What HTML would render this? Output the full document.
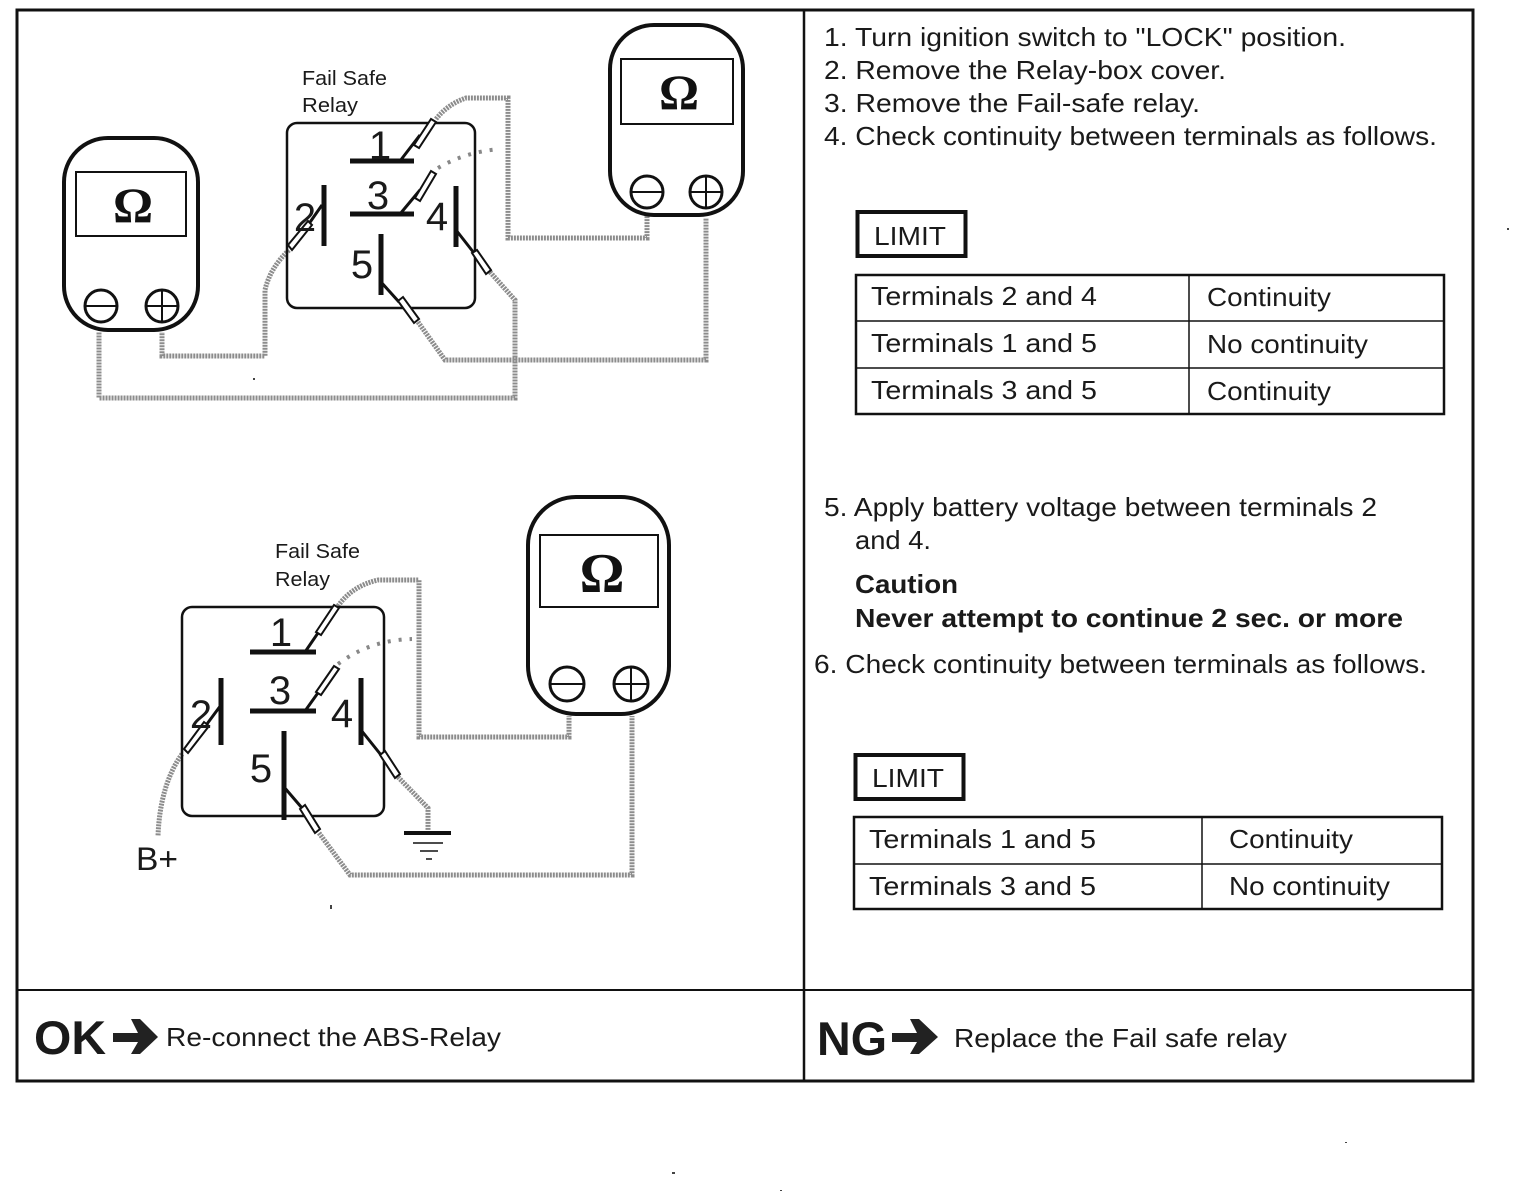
<!DOCTYPE html>
<html><head><meta charset="utf-8"><style>
html,body{margin:0;padding:0;background:#fff}
svg{display:block}
text{font-family:"Liberation Sans",sans-serif;fill:#1a1a1a}
.w{fill:none;stroke:#8c8c8c;stroke-width:5;stroke-dasharray:2 1;stroke-linejoin:miter}
.d{fill:none;stroke:#888;stroke-width:4;stroke-dasharray:3 8}
.k{fill:none;stroke:#111}
.p{fill:#fff;stroke:#111;stroke-width:2}
.t{font-size:26px}
.n{font-size:40px}
.f{font-size:20px}
.om{font-family:"Liberation Serif",serif;font-weight:bold;font-size:50px;fill:#111;text-anchor:middle}
.b{font-weight:bold}
</style></head><body>
<svg width="1536" height="1198" viewBox="0 0 1536 1198" xmlns="http://www.w3.org/2000/svg">
<rect width="1536" height="1198" fill="#fff"/>
<!-- frame -->
<rect x="17" y="10" width="1456" height="1071" class="k" stroke-width="3"/>
<path d="M804 10V1081" class="k" stroke-width="2.5"/>
<path d="M17 990H1473" class="k" stroke-width="2"/>

<!-- top wires -->
<path class="w" d="M436 119Q448 104 466 98H508V238H647V215"/>
<path class="d" d="M438 168Q465 152 500 149"/>
<path class="w" d="M289 250Q270 268 265 290V356H162V332"/>
<path class="w" d="M490 272L515 300V398H99V332"/>
<path class="w" d="M418 322L445 360H706V218"/>

<!-- top relay -->
<rect x="287" y="123" width="188" height="185" rx="10" class="k" stroke-width="2.5"/>
<path class="k" stroke-width="5" d="M350 161H414M350 214H414M324 185V246M456 186V247M381 234V295"/>
<path class="k" stroke-width="3" d="M400 161L420 135M400 214L420 190M322 205L306 228M456 230L474 253M381 282L399 302"/>
<g class="p">
<path d="M414 145L431 119L436 122L419 148Z"/>
<path d="M415 198L431 171L436 174L420 201Z"/>
<path d="M288 245L308 221L312 225L292 250Z"/>
<path d="M472 253L477 250L491 270L486 274Z"/>
<path d="M398 301L403 297L419 319L414 323Z"/>
</g>
<text class="f" x="302" y="85" textLength="85" lengthAdjust="spacingAndGlyphs">Fail Safe</text>
<text class="f" x="302" y="112" textLength="56" lengthAdjust="spacingAndGlyphs">Relay</text>
<text class="n" x="380" y="159" text-anchor="middle">1</text>
<text class="n" x="378" y="209" text-anchor="middle">3</text>
<text class="n" x="305" y="231" text-anchor="middle">2</text>
<text class="n" x="437" y="230" text-anchor="middle">4</text>
<text class="n" x="362" y="278" text-anchor="middle">5</text>

<!-- left meter -->
<rect x="64" y="138" width="134" height="192" rx="44" class="k" stroke-width="4"/>
<rect x="76" y="172" width="110" height="64" class="k" stroke-width="2"/>
<text class="om" x="133" y="222">Ω</text>
<ellipse cx="101" cy="306" rx="16" ry="16" class="k" stroke-width="3"/>
<ellipse cx="162" cy="306" rx="16" ry="16" class="k" stroke-width="3"/>
<path class="k" stroke-width="2" d="M85 306H117M146 306H178M162 290V322"/>

<!-- right meter -->
<rect x="610" y="25" width="133" height="190" rx="44" class="k" stroke-width="4"/>
<rect x="621" y="59" width="112" height="65" class="k" stroke-width="2"/>
<text class="om" x="679" y="109">Ω</text>
<ellipse cx="647" cy="192" rx="16" ry="16" class="k" stroke-width="3"/>
<ellipse cx="706" cy="192" rx="16" ry="16" class="k" stroke-width="3"/>
<path class="k" stroke-width="2" d="M631 192H663M690 192H722M706 176V208"/>

<!-- bottom wires -->
<path class="w" d="M338 606Q352 586 378 580H419V737H569V716"/>
<path class="d" d="M338 664Q370 640 412 639"/>
<path class="w" d="M182 754Q160 785 158 836"/>
<path class="w" d="M398 777L428 808V830"/>
<path class="w" d="M319 833L350 875H632V716"/>

<!-- bottom relay -->
<rect x="182" y="607" width="202" height="209" rx="10" class="k" stroke-width="2.5"/>
<path class="k" stroke-width="5" d="M250 652H316M250 711H316M221 678V745M361 678V745M284 731V820"/>
<path class="k" stroke-width="3" d="M305 652L320 630M305 711L320 690M221 705L204 728M361 730L381 755M284 787L302 808"/>
<g class="p">
<path d="M316 632L334 605L339 608L321 635Z"/>
<path d="M316 692L334 666L339 669L321 695Z"/>
<path d="M184 749L204 722L209 726L188 753Z"/>
<path d="M380 755L385 751L400 774L395 778Z"/>
<path d="M300 809L305 805L320 829L315 833Z"/>
</g>
<text class="f" x="275" y="558" textLength="85" lengthAdjust="spacingAndGlyphs">Fail Safe</text>
<text class="f" x="275" y="586" textLength="55" lengthAdjust="spacingAndGlyphs">Relay</text>
<text class="n" x="281" y="646" text-anchor="middle">1</text>
<text class="n" x="280" y="704" text-anchor="middle">3</text>
<text class="n" x="201" y="728" text-anchor="middle">2</text>
<text class="n" x="342" y="727" text-anchor="middle">4</text>
<text class="n" x="261" y="782" text-anchor="middle">5</text>
<text x="136" y="870" font-size="32" textLength="42" lengthAdjust="spacingAndGlyphs">B+</text>
<path class="k" d="M404 833H451" stroke-width="4"/>
<path class="k" d="M413 843H443M420 851H438M426 859H432" stroke-width="1.5"/>

<!-- bottom meter -->
<rect x="528" y="497" width="141" height="217" rx="48" class="k" stroke-width="4"/>
<rect x="540" y="535" width="118" height="72" class="k" stroke-width="2"/>
<text class="om" x="602" y="592" style="font-size:56px">Ω</text>
<circle cx="567" cy="684" r="17" class="k" stroke-width="3"/>
<circle cx="631" cy="684" r="17" class="k" stroke-width="3"/>
<path class="k" stroke-width="2" d="M550 684H584M614 684H648M631 667V701"/>

<!-- right text -->
<text class="t" x="824" y="46" textLength="522" lengthAdjust="spacingAndGlyphs">1. Turn ignition switch to "LOCK" position.</text>
<text class="t" x="824" y="79" textLength="402" lengthAdjust="spacingAndGlyphs">2. Remove the Relay-box cover.</text>
<text class="t" x="824" y="112" textLength="376" lengthAdjust="spacingAndGlyphs">3. Remove the Fail-safe relay.</text>
<text class="t" x="824" y="145" textLength="613" lengthAdjust="spacingAndGlyphs">4. Check continuity between terminals as follows.</text>

<rect x="857.5" y="212" width="108" height="44" class="k" stroke-width="4"/>
<text class="t" x="874" y="245" textLength="72" lengthAdjust="spacingAndGlyphs">LIMIT</text>
<rect x="856" y="275" width="588" height="139" class="k" stroke-width="2.5"/>
<path class="k" stroke-width="1.5" d="M856 321H1444M856 368H1444M1189 275V414"/>
<text class="t" x="871" y="305" textLength="226" lengthAdjust="spacingAndGlyphs">Terminals 2 and 4</text>
<text class="t" x="1207" y="306" textLength="124" lengthAdjust="spacingAndGlyphs">Continuity</text>
<text class="t" x="871" y="352" textLength="226" lengthAdjust="spacingAndGlyphs">Terminals 1 and 5</text>
<text class="t" x="1207" y="353" textLength="161" lengthAdjust="spacingAndGlyphs">No continuity</text>
<text class="t" x="871" y="399" textLength="226" lengthAdjust="spacingAndGlyphs">Terminals 3 and 5</text>
<text class="t" x="1207" y="400" textLength="124" lengthAdjust="spacingAndGlyphs">Continuity</text>

<text class="t" x="824" y="516" textLength="553" lengthAdjust="spacingAndGlyphs">5. Apply battery voltage between terminals 2</text>
<text class="t" x="855" y="549" textLength="76" lengthAdjust="spacingAndGlyphs">and 4.</text>
<text class="t b" x="855" y="593" textLength="103" lengthAdjust="spacingAndGlyphs">Caution</text>
<text class="t b" x="855" y="627" textLength="548" lengthAdjust="spacingAndGlyphs">Never attempt to continue 2 sec. or more</text>
<text class="t" x="814" y="673" textLength="613" lengthAdjust="spacingAndGlyphs">6. Check continuity between terminals as follows.</text>

<rect x="855.5" y="755" width="108" height="44" class="k" stroke-width="4"/>
<text class="t" x="872" y="787" textLength="72" lengthAdjust="spacingAndGlyphs">LIMIT</text>
<rect x="854" y="817" width="588" height="92" class="k" stroke-width="2.5"/>
<path class="k" stroke-width="1.5" d="M854 864H1442M1202 817V909"/>
<text class="t" x="869" y="848" textLength="227" lengthAdjust="spacingAndGlyphs">Terminals 1 and 5</text>
<text class="t" x="1229" y="848" textLength="124" lengthAdjust="spacingAndGlyphs">Continuity</text>
<text class="t" x="869" y="895" textLength="227" lengthAdjust="spacingAndGlyphs">Terminals 3 and 5</text>
<text class="t" x="1229" y="895" textLength="161" lengthAdjust="spacingAndGlyphs">No continuity</text>

<!-- footer -->
<text class="b" x="34" y="1054" font-size="47" textLength="72" lengthAdjust="spacingAndGlyphs">OK</text>
<path d="M113 1033H138L131 1019H140L158 1037L140 1054H131L138 1042H113Z" fill="#222"/>
<text class="t" x="166" y="1046" textLength="335" lengthAdjust="spacingAndGlyphs">Re-connect the ABS-Relay</text>
<text class="b" x="817" y="1055" font-size="47" textLength="70" lengthAdjust="spacingAndGlyphs">NG</text>
<path d="M892 1033H917L910 1019H919L938 1037L919 1054H910L917 1042H892Z" fill="#222"/>
<text class="t" x="954" y="1047" textLength="333" lengthAdjust="spacingAndGlyphs">Replace the Fail safe relay</text>

<!-- specks -->
<g fill="#444">
<rect x="672" y="1172" width="3" height="2"/><rect x="330" y="905" width="2" height="4"/>
<rect x="1507" y="228" width="2" height="2"/><rect x="1345" y="1142" width="2" height="1"/>
<rect x="780" y="1190" width="2" height="1"/><rect x="253" y="378" width="2" height="2"/>
</g>
</svg>
</body></html>
